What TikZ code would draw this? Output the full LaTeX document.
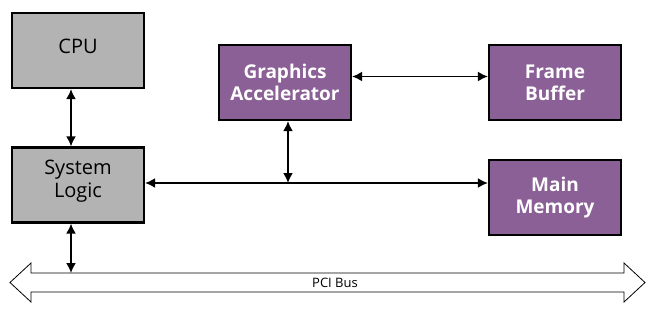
\documentclass[tikz,border=0pt]{standalone}
\usepackage{fontspec}
\setmainfont{Open Sans}
\usetikzlibrary{arrows.meta}
\definecolor{boxgray}{RGB}{179,179,179}
\definecolor{boxpurple}{RGB}{139,96,150}
\tikzset{
  unit/.style={draw, line width=2.2pt, minimum width=132pt, minimum height=75pt,
    align=center, font=\fontsize{20}{23}\selectfont},
  graybox/.style={unit, fill=boxgray, text=black},
  purplebox/.style={unit, fill=boxpurple, text=white, font=\bfseries\fontsize{19}{22}\selectfont},
  link/.style={line width=1.8pt, {Latex[length=10pt,width=10pt]}-{Latex[length=10pt,width=10pt]}},
  bus/.style={draw, line width=0.8pt, line join=miter}
}
\begin{document}
\begin{tikzpicture}[x=1pt,y=-1pt]
  \useasboundingbox (0,0) rectangle (650,324);
  %boxes
  \node[graybox, text depth=8.5pt] (cpu) at (78,50.5) {CPU};
  \node[graybox, text depth=13pt] (sl) at (78,185) {System\\Logic};
  \node[purplebox] (ga) at (285,82.5) {Graphics\\Accelerator};
  \node[purplebox] (fb) at (555,82.5) {Frame\\Buffer};
  \node[purplebox] (mm) at (555,197.5) {Main\\Memory};

  %bus
  \draw[bus] (10,282.5) -- (31,263) -- (31,273) -- (624,273) -- (624,263)
    -- (645,282.5) -- (624,302) -- (624,292) -- (31,292) -- (31,302) -- cycle;
  \node[font=\fontsize{13}{15}\selectfont] (pci) at (335,282.5) {PCI Bus};
  \coordinate (pci top) at (0,273);

  %arrows
  \coordinate (cpu port) at ([xshift=-7pt]cpu.south);
  \coordinate (sl port) at ([xshift=-7pt]sl.south);
  \coordinate (sys line) at ([yshift=2pt]sl.east);
  \coordinate (ga port) at ([xshift=3pt]ga.south);
  \draw[link] (cpu port) -- (cpu port |- sl.north);
  \draw[link] (sl port) -- (sl port |- pci top);
  \draw[link] ([yshift=6pt]ga.east) -- ([yshift=6pt]fb.west);
  \draw[link] (sys line) -- (sys line -| mm.west);
  \draw[link] (ga port) -- (ga port |- sys line);
\end{tikzpicture}
\end{document}
